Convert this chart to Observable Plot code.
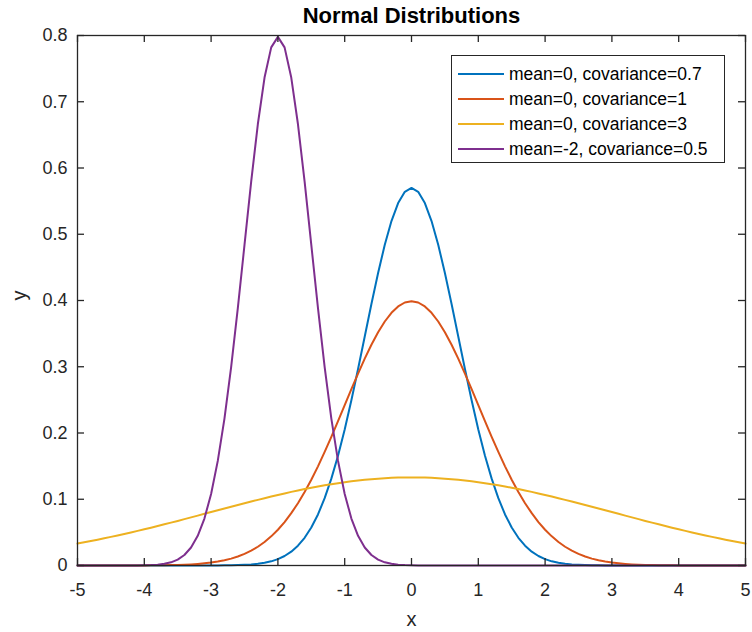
<!DOCTYPE html>
<html>
<head>
<meta charset="utf-8">
<script src="https://cdn.jsdelivr.net/npm/d3@7"></script>
<script src="https://cdn.jsdelivr.net/npm/@observablehq/plot@0.6"></script>
<style>
  body { margin: 0; background: #fff; font-family: "Liberation Sans", Arial, sans-serif; }
  #wrap { position: relative; width: 752px; height: 632px; }
  #legend {
    position: absolute; left: 451px; top: 55px; width: 272px; height: 106px;
    border: 1px solid #262626; background: #fff; color: #000;
    font-family: "Liberation Sans", Arial, sans-serif; font-size: 17.5px;
  }
  #legend .row { position: absolute; left: 0; height: 20px; display: flex; align-items: center; }
  #legend .swatch { display: inline-block; width: 46px; height: 2px; margin-left: 6px; margin-right: 5px; }
</style>
</head>
<body>
<div id="wrap"></div>
<script>
// Sample positions along x
const xs = [-5,-4.9,-4.8,-4.7,-4.6,-4.5,-4.4,-4.3,-4.2,-4.1,-4,-3.9,-3.8,-3.7,-3.6,-3.5,-3.4,-3.3,-3.2,-3.1,
  -3,-2.9,-2.8,-2.7,-2.6,-2.5,-2.4,-2.3,-2.2,-2.1,-2,-1.9,-1.8,-1.7,-1.6,-1.5,-1.4,-1.3,-1.2,-1.1,
  -1,-0.9,-0.8,-0.7,-0.6,-0.5,-0.4,-0.3,-0.2,-0.1,0,0.1,0.2,0.3,0.4,0.5,0.6,0.7,0.8,0.9,
  1,1.1,1.2,1.3,1.4,1.5,1.6,1.7,1.8,1.9,2,2.1,2.2,2.3,2.4,2.5,2.6,2.7,2.8,2.9,
  3,3.1,3.2,3.3,3.4,3.5,3.6,3.7,3.8,3.9,4,4.1,4.2,4.3,4.4,4.5,4.6,4.7,4.8,4.9,5];

// Density values for each curve
const blue = [0,0,0,0,0,0,0,0,0,0,0,0,0,0,0,0,0,0,0,0,
  0.0001,0.0001,0.0002,0.0003,0.0006,0.0010,0.0016,0.0026,0.0041,0.0063,
  0.0096,0.0143,0.0209,0.0299,0.0418,0.0574,0.0771,0.1016,0.1311,0.1658,
  0.2054,0.2494,0.2966,0.3457,0.3947,0.4416,0.4841,0.5199,0.5471,0.5641,
  0.5699,
  0.5641,0.5471,0.5199,0.4841,0.4416,0.3947,0.3457,0.2966,0.2494,0.2054,
  0.1658,0.1311,0.1016,0.0771,0.0574,0.0418,0.0299,0.0209,0.0143,0.0096,
  0.0063,0.0041,0.0026,0.0016,0.0010,0.0006,0.0003,0.0002,0.0001,0.0001,
  0,0,0,0,0,0,0,0,0,0,0,0,0,0,0,0,0,0,0,0];

const red = [0,0,0,0,0,0,0,0,0,
  0.0001,0.0001,0.0002,0.0003,0.0004,0.0006,0.0009,0.0012,0.0017,0.0024,0.0033,
  0.0044,0.0060,0.0079,0.0104,0.0136,0.0175,0.0224,0.0283,0.0355,0.0440,
  0.0540,0.0656,0.0790,0.0940,0.1109,0.1295,0.1497,0.1714,0.1942,0.2179,
  0.2420,0.2661,0.2897,0.3123,0.3332,0.3521,0.3683,0.3814,0.3910,0.3970,
  0.3989,
  0.3970,0.3910,0.3814,0.3683,0.3521,0.3332,0.3123,0.2897,0.2661,0.2420,
  0.2179,0.1942,0.1714,0.1497,0.1295,0.1109,0.0940,0.0790,0.0656,0.0540,
  0.0440,0.0355,0.0283,0.0224,0.0175,0.0136,0.0104,0.0079,0.0060,0.0044,
  0.0033,0.0024,0.0017,0.0012,0.0009,0.0006,0.0004,0.0003,0.0002,0.0001,0.0001,
  0,0,0,0,0,0,0,0,0];

const yellow = [0.0332,0.0350,0.0370,0.0390,0.0410,0.0432,0.0454,0.0476,0.0499,0.0523,
  0.0547,0.0571,0.0596,0.0622,0.0647,0.0673,0.0700,0.0726,0.0753,0.0780,
  0.0807,0.0833,0.0860,0.0887,0.0913,0.0940,0.0966,0.0991,0.1016,0.1041,
  0.1065,0.1088,0.1111,0.1133,0.1154,0.1174,0.1193,0.1211,0.1228,0.1243,
  0.1258,0.1271,0.1283,0.1294,0.1303,0.1311,0.1318,0.1323,0.1327,0.1329,
  0.1330,
  0.1329,0.1327,0.1323,0.1318,0.1311,0.1303,0.1294,0.1283,0.1271,0.1258,
  0.1243,0.1228,0.1211,0.1193,0.1174,0.1154,0.1133,0.1111,0.1088,0.1065,
  0.1041,0.1016,0.0991,0.0966,0.0940,0.0913,0.0887,0.0860,0.0833,0.0807,
  0.0780,0.0753,0.0726,0.0700,0.0673,0.0647,0.0622,0.0596,0.0571,0.0547,
  0.0523,0.0499,0.0476,0.0454,0.0432,0.0410,0.0390,0.0370,0.0350,0.0332];

const purple = [0,0,0,0,0,0,0,0,
  0.0001,0.0001,0.0003,0.0006,0.0012,0.0025,0.0048,0.0089,0.0158,0.0272,0.0448,
  0.0709,0.1080,0.1579,0.2218,0.2995,0.3884,0.4839,0.5794,0.6664,0.7365,0.7821,
  0.7979,
  0.7821,0.7365,0.6664,0.5794,0.4839,0.3884,0.2995,0.2218,0.1579,0.1080,0.0709,
  0.0448,0.0272,0.0158,0.0089,0.0048,0.0025,0.0012,0.0006,0.0003,0.0001,0.0001,
  0,0,0,0,0,0,0,0,0,0,0,0,0,0,0,0,0,0,0,0,0,0,0,0,
  0,0,0,0,0,0,0,0,0,0,0,0,0,0,0,0,0,0,0,0,0,0,0,0];

const seriesNames = [
  "mean=0, covariance=0.7",
  "mean=0, covariance=1",
  "mean=0, covariance=3",
  "mean=-2, covariance=0.5"
];
const seriesColors = ["#0072BD", "#D95319", "#EDB120", "#7E2F8E"];
const seriesValues = [blue, red, yellow, purple];

const xTicks = [-5,-4,-3,-2,-1,0,1,2,3,4,5];
const xTickLabels = ["-5","-4","-3","-2","-1","0","1","2","3","4","5"];
const yTicks = [0,0.1,0.2,0.3,0.4,0.5,0.6,0.7,0.8];
const yTickLabels = ["0","0.1","0.2","0.3","0.4","0.5","0.6","0.7","0.8"];

const titleText = "Normal Distributions";
const xLabel = "x";
const yLabel = "y";

// Long-format table for the line mark
const rows = [];
seriesValues.forEach((vals, s) => {
  vals.forEach((v, i) => rows.push({x: xs[i], y: v, series: seriesNames[s]}));
});

const W = 752, H = 632;
const mL = 77, mR = 7, mT = 35, mB = 67;
const innerW = W - mL - mR, innerH = H - mT - mB;
const ink = "#262626";
const tickLen = 7;

const chart = Plot.plot({
  width: W,
  height: H,
  marginLeft: mL,
  marginRight: mR,
  marginTop: mT,
  marginBottom: mB,
  style: {fontFamily: "'Liberation Sans', Arial, sans-serif", background: "#fff", color: ink},
  x: {domain: [-5, 5]},
  y: {domain: [0, 0.8]},
  color: {domain: seriesNames, range: seriesColors},
  marks: [
    Plot.line(rows, {x: "x", y: "y", z: "series", stroke: "series", strokeWidth: 2}),
    Plot.frame({stroke: ink, strokeWidth: 1.3}),
    // inward ticks on all four sides
    Plot.tickX(xTicks, {x: d => d, stroke: ink, strokeWidth: 1.3, insetTop: innerH - tickLen}),
    Plot.tickX(xTicks, {x: d => d, stroke: ink, strokeWidth: 1.3, insetBottom: innerH - tickLen}),
    Plot.tickY(yTicks, {y: d => d, stroke: ink, strokeWidth: 1.3, insetRight: innerW - tickLen}),
    Plot.tickY(yTicks, {y: d => d, stroke: ink, strokeWidth: 1.3, insetLeft: innerW - tickLen}),
    Plot.axisX({ticks: xTicks, tickFormat: (d, i) => xTickLabels[i], tickSize: 0, tickPadding: 18,
      fontSize: 18, fill: ink, label: null}),
    Plot.axisY({ticks: yTicks, tickFormat: (d, i) => yTickLabels[i], tickSize: 0, tickPadding: 10,
      fontSize: 18, fill: ink, label: null}),
    Plot.text([titleText], {frameAnchor: "top", lineAnchor: "bottom", dy: -13,
      fontSize: 22, fontWeight: "bold", fill: "#000"}),
    Plot.text([xLabel], {frameAnchor: "bottom", lineAnchor: "middle", dy: 54, fontSize: 20, fill: ink}),
    Plot.text([yLabel], {frameAnchor: "left", lineAnchor: "middle", dx: -58, rotate: -90, fontSize: 20, fill: ink})
  ]
});

const wrap = document.getElementById("wrap");
wrap.appendChild(chart);

// Line-sample legend in the upper right of the axes
const legend = document.createElement("div");
legend.id = "legend";
seriesNames.forEach((name, i) => {
  const row = document.createElement("div");
  row.className = "row";
  row.style.top = (8 + i * 25) + "px";
  const sw = document.createElement("span");
  sw.className = "swatch";
  sw.style.background = seriesColors[i];
  const label = document.createElement("span");
  label.textContent = name;
  row.appendChild(sw);
  row.appendChild(label);
  legend.appendChild(row);
});
wrap.appendChild(legend);
</script>
</body>
</html>
